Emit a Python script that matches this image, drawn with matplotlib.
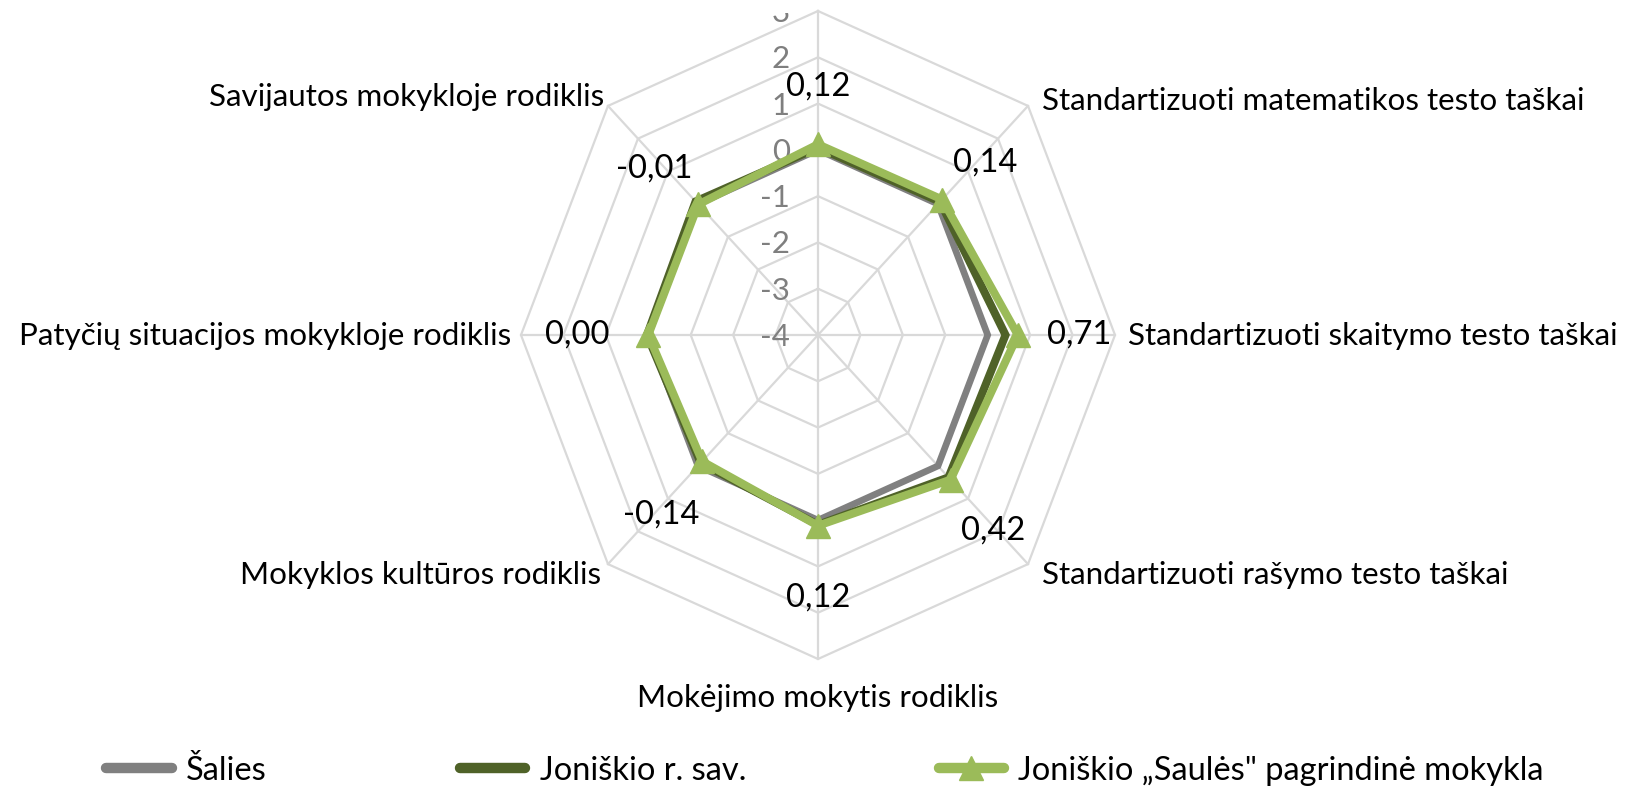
import numpy as np
import matplotlib
matplotlib.use("Agg")
import matplotlib.pyplot as plt
from matplotlib.lines import Line2D
from matplotlib.transforms import Bbox

plt.rcParams['font.family'] = ['Lato', 'DejaVu Sans']

# ---- data ----
categories = ["",
              "Standartizuoti matematikos testo taškai",
              "Standartizuoti skaitymo testo taškai",
              "Standartizuoti rašymo testo taškai",
              "Mokėjimo mokytis rodiklis",
              "Mokyklos kultūros rodiklis",
              "Patyčių situacijos mokykloje rodiklis",
              "Savijautos mokykloje rodiklis"]
series_names = ["Šalies", "Joniškio r. sav.", "Joniškio „Saulės\" pagrindinė mokykla"]
salies = [0.0, 0.0, 0.0, 0.0, 0.0, 0.0, 0.0, 0.0]
rajonas = [0.05, 0.07, 0.42, 0.35, 0.10, -0.09, 0.03, 0.08]
mokykla = [0.12, 0.14, 0.71, 0.42, 0.12, -0.14, 0.00, -0.01]
ring_values = [-4, -3, -2, -1, 0, 1, 2, 3]

# ---- styles ----
GRID = "#D9D9D9"
C_SAL = "#808080"
C_RAJ = "#4F6228"
C_MOK = "#9BBB59"
FS = 23.5
FS_CAT = 22.6

W, H = 1634, 788
fig = plt.figure(figsize=(W / 100, H / 100), dpi=100)
cx, cy = 818, 335
rx, ry = 297, 324
ax = fig.add_axes([(cx - rx) / W, (H - cy - ry) / H, 2 * rx / W, 2 * ry / H],
                  projection='polar')
ax.set_aspect('auto')
ax.set_theta_zero_location('N')
ax.set_theta_direction(-1)
ax.set_ylim(ring_values[0], ring_values[-1])
ax.grid(False)
ax.spines['polar'].set_visible(False)
ax.set_xticks([])
ax.set_yticks([])
ax.patch.set_alpha(0)

n = len(categories)
angles = np.linspace(0, 2 * np.pi, n, endpoint=False)
ang_c = np.append(angles, angles[0])

# octagonal grid
for v in ring_values:
    ax.plot(ang_c, [v] * (n + 1), color=GRID, lw=1.6, zorder=1, clip_on=False)
for a in angles:
    ax.plot([a, a], [ring_values[0], ring_values[-1]], color=GRID, lw=1.6, zorder=1, clip_on=False)

# ring labels (the chart area in the reference cuts off the top 13 px)
clip_bb = Bbox.from_extents(0, 0, W, H - 13)
for v in ring_values:
    t = ax.annotate(str(v), xy=(0, v), xytext=(-28, -2), textcoords='offset pixels',
                    ha='right', va='center', fontsize=FS - 1, color='#7F7F7F',
                    annotation_clip=False, zorder=2)
    t.set_clip_box(clip_bb)
    t.set_clip_on(True)

def closed(vals):
    return list(vals) + [vals[0]]

ax.plot(ang_c, closed(salies), color=C_SAL, lw=4.8, solid_joinstyle='miter', zorder=3, clip_on=False)
ax.plot(ang_c, closed(rajonas), color=C_RAJ, lw=5.8, solid_joinstyle='miter', zorder=4, clip_on=False)
ax.plot(ang_c, closed(mokykla), color=C_MOK, lw=5.8, solid_joinstyle='miter', zorder=5,
        marker='^', markersize=17, markevery=list(range(n)), clip_on=False)

# data labels of the school series
label_offsets = [(0, 58), (43, 37), (61, 0), (43, -51), (0, -72), (-41, -53), (-71, 0), (-44, 36)]
for a, v, off in zip(angles, mokykla, label_offsets):
    txt = f"{v:.2f}".replace(".", ",")
    if txt == "-0,00":
        txt = "0,00"
    ax.annotate(txt, xy=(a, v), xytext=off, textcoords='offset pixels',
                ha='center', va='center', fontsize=FS, color='black',
                annotation_clip=False, zorder=6)

# category labels, placed from the outer ring vertex
cat_offsets = [(0, 40), (14, 5), (13, -1), (14, -11), (0, -39), (-7, -11), (-10, -1), (-4, 9)]
for a, lab, off in zip(angles, categories, cat_offsets):
    s = np.sin(a)
    if abs(s) < 1e-6:
        ha = 'center'
    elif s > 0:
        ha = 'left'
    else:
        ha = 'right'
    ax.annotate(lab, xy=(a, ring_values[-1]), xytext=off, textcoords='offset pixels',
                ha=ha, va='center', fontsize=FS_CAT, color='black', annotation_clip=False)

# legend
handles = [
    Line2D([], [], color=C_SAL, lw=7.5, solid_capstyle='round'),
    Line2D([], [], color=C_RAJ, lw=7.5, solid_capstyle='round'),
    Line2D([], [], color=C_MOK, lw=7.5, solid_capstyle='round', marker='^', markersize=17),
]
fig.legend(handles, series_names, loc='center', bbox_to_anchor=(0.505, 0.022),
           ncol=3, frameon=False, fontsize=FS, handlelength=2.0, handletextpad=0.45,
           columnspacing=5.9, borderpad=0.1)

fig.savefig("out.png", dpi=100)
